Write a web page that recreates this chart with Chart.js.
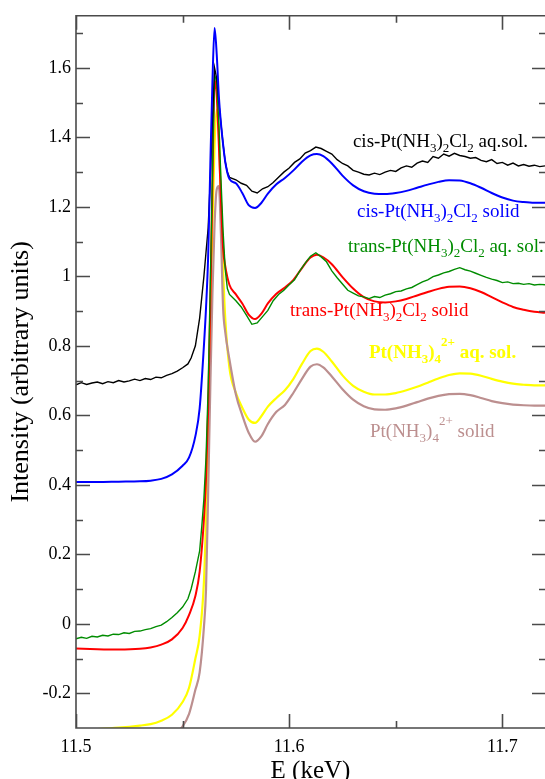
<!DOCTYPE html>
<html>
<head>
<meta charset="utf-8">
<title>Pt L3-edge XANES</title>
<script src="https://cdn.jsdelivr.net/npm/chart.js@4.4.1/dist/chart.umd.min.js"></script>
<style>
  body { margin: 0; background: #fff; overflow: hidden; }
  canvas { display: block; }
</style>
</head>
<body>
<canvas id="xanes" width="545" height="779"></canvas>
<script>
// energy grid (keV) for the smooth spectra
const energy = [11.500, 11.510, 11.520, 11.530, 11.535, 11.540, 11.545, 11.550, 11.553, 11.556,
    11.558, 11.560, 11.561, 11.562, 11.563, 11.564, 11.565, 11.566, 11.567, 11.568,
    11.569, 11.570, 11.572, 11.575, 11.578, 11.581, 11.584, 11.587, 11.590, 11.594,
    11.598, 11.602, 11.606, 11.610, 11.613, 11.616, 11.620, 11.625, 11.630, 11.635,
    11.640, 11.645, 11.650, 11.655, 11.660, 11.665, 11.670, 11.675, 11.680, 11.685,
    11.690, 11.695, 11.700, 11.705, 11.710, 11.715, 11.720];

const cisSolid = [0.408, 0.408, 0.409, 0.410, 0.412, 0.417, 0.430, 0.455, 0.478, 0.54,
    0.62, 0.80, 0.91, 1.06, 1.32, 1.56, 1.715, 1.64, 1.52, 1.44,
    1.38, 1.33, 1.28, 1.268, 1.24, 1.205, 1.197, 1.212, 1.238, 1.265,
    1.283, 1.305, 1.330, 1.348, 1.352, 1.346, 1.325, 1.290, 1.262, 1.245,
    1.238, 1.237, 1.240, 1.246, 1.255, 1.264, 1.272, 1.277, 1.276, 1.268,
    1.255, 1.240, 1.227, 1.218, 1.214, 1.212, 1.212];

const transSolid = [-0.071, -0.073, -0.074, -0.072, -0.068, -0.060, -0.045, -0.012, 0.025, 0.08,
    0.15, 0.30, 0.42, 0.62, 0.92, 1.26, 1.565, 1.52, 1.38, 1.22,
    1.08, 1.03, 0.975, 0.948, 0.922, 0.890, 0.877, 0.893, 0.922, 0.950,
    0.968, 0.990, 1.024, 1.054, 1.062, 1.055, 1.035, 0.998, 0.965, 0.940,
    0.928, 0.925, 0.928, 0.935, 0.945, 0.955, 0.964, 0.970, 0.971, 0.966,
    0.955, 0.940, 0.925, 0.912, 0.904, 0.898, 0.895];

const tetraAq = [-0.306, -0.303, -0.299, -0.293, -0.289, -0.279, -0.262, -0.225, -0.185, -0.10,
    -0.035, 0.12, 0.30, 0.55, 0.85, 1.15, 1.38, 1.48, 1.42, 1.20,
    1.02, 0.88, 0.735, 0.665, 0.622, 0.588, 0.578, 0.598, 0.625, 0.650,
    0.672, 0.705, 0.748, 0.785, 0.792, 0.783, 0.755, 0.715, 0.685, 0.668,
    0.660, 0.660, 0.664, 0.672, 0.682, 0.694, 0.706, 0.716, 0.721, 0.720,
    0.714, 0.705, 0.697, 0.691, 0.688, 0.686, 0.686];

const tetraSolid = [-0.40, -0.39, -0.38, -0.37, -0.36, -0.345, -0.325, -0.295, -0.26, -0.19,
    -0.14, -0.01, 0.10, 0.38, 0.68, 0.95, 1.15, 1.25, 1.26, 1.12,
    0.91, 0.84, 0.76, 0.66, 0.60, 0.55, 0.524, 0.540, 0.575, 0.610,
    0.630, 0.665, 0.705, 0.740, 0.747, 0.738, 0.712, 0.675, 0.645, 0.626,
    0.617, 0.616, 0.620, 0.628, 0.638, 0.648, 0.656, 0.661, 0.662, 0.658,
    0.650, 0.641, 0.635, 0.631, 0.629, 0.628, 0.628];

// finer grid for the two noisy solution spectra
const energyNoisy = [11.5, 11.5025, 11.505, 11.5075, 11.51, 11.5125, 11.515, 11.5175, 11.52, 11.5225,
    11.525, 11.5275, 11.53, 11.5325, 11.535, 11.5375, 11.54, 11.5425, 11.545, 11.5475, 11.55, 11.5525,
    11.554, 11.556, 11.558, 11.559, 11.56, 11.561, 11.562, 11.563, 11.564, 11.565,
    11.566, 11.567, 11.568, 11.569, 11.57, 11.571, 11.572,
    11.575, 11.5775, 11.58, 11.5825, 11.585, 11.5875, 11.59, 11.5925, 11.595, 11.5975,
    11.6, 11.6025, 11.605, 11.6075, 11.61, 11.6125, 11.615, 11.6175, 11.62, 11.6225,
    11.625, 11.6275, 11.63, 11.6325, 11.635, 11.6375, 11.64, 11.6425, 11.645, 11.6475,
    11.65, 11.6525, 11.655, 11.6575, 11.66, 11.6625, 11.665, 11.6675, 11.67, 11.6725,
    11.675, 11.6775, 11.68, 11.6825, 11.685, 11.6875, 11.69, 11.6925, 11.695, 11.6975,
    11.7, 11.7025, 11.705, 11.7075, 11.71, 11.7125, 11.715, 11.7175, 11.72];

const cisAq = [0.688, 0.694, 0.689, 0.693, 0.696, 0.691, 0.697, 0.694, 0.700, 0.696,
    0.699, 0.704, 0.700, 0.706, 0.703, 0.710, 0.708, 0.715, 0.720, 0.727, 0.737, 0.748,
    0.765, 0.80, 0.88, 0.94, 1.00, 1.07, 1.14, 1.28, 1.45, 1.60,
    1.57, 1.50, 1.44, 1.38, 1.33, 1.30, 1.285,
    1.278, 1.268, 1.262, 1.245, 1.240, 1.252, 1.258, 1.270, 1.285, 1.300,
    1.312, 1.328, 1.338, 1.355, 1.362, 1.372, 1.368, 1.360, 1.352, 1.336,
    1.325, 1.318, 1.305, 1.300, 1.294, 1.292, 1.297, 1.293, 1.300, 1.305,
    1.302, 1.312, 1.318, 1.314, 1.326, 1.332, 1.328, 1.345, 1.340, 1.352,
    1.346, 1.354, 1.348, 1.345, 1.340, 1.342, 1.334, 1.330, 1.336, 1.325,
    1.328, 1.320, 1.326, 1.318, 1.322, 1.317, 1.320, 1.316, 1.318];

const transAq = [-0.043, -0.039, -0.042, -0.036, -0.038, -0.033, -0.035, -0.030, -0.031, -0.026,
    -0.028, -0.022, -0.021, -0.017, -0.014, -0.008, -0.004, 0.006, 0.018, 0.032, 0.048, 0.072,
    0.10, 0.15, 0.21, 0.28, 0.36, 0.48, 0.68, 0.98, 1.30, 1.58,
    1.56, 1.44, 1.28, 1.13, 1.02, 0.965, 0.948,
    0.930, 0.912, 0.888, 0.862, 0.866, 0.884, 0.902, 0.930, 0.948, 0.960,
    0.976, 0.990, 1.016, 1.038, 1.058, 1.068, 1.056, 1.042, 1.016, 0.996,
    0.978, 0.960, 0.952, 0.944, 0.941, 0.936, 0.942, 0.939, 0.946, 0.950,
    0.956, 0.958, 0.964, 0.968, 0.976, 0.984, 0.990, 0.999, 1.004, 1.010,
    1.014, 1.020, 1.025, 1.019, 1.015, 1.009, 1.003, 0.997, 0.992, 0.988,
    0.982, 0.984, 0.979, 0.980, 0.977, 0.979, 0.975, 0.977, 0.976];

// axis ticks
const xMajorTicks = [11.5, 11.6, 11.7];
const xMinorTicks = [11.55, 11.65];
const yMajorTicks = [-0.2, 0, 0.2, 0.4, 0.6, 0.8, 1, 1.2, 1.4, 1.6];
const yMinorTicks = [-0.1, 0.1, 0.3, 0.5, 0.7, 0.9, 1.1, 1.3, 1.5, 1.7];

const SERIF = '"Liberation Serif", "DejaVu Serif", serif';

// curve labels: text parts as [text, 0 normal | -1 subscript | 1 superscript]
const curveLabels = [
    { x: 11.6299, y: 1.371, color: '#000000', bold: false,
      parts: [['cis-Pt(NH', 0], ['3', -1], [')', 0], ['2', -1], ['Cl', 0], ['2', -1], [' aq.sol.', 0]] },
    { x: 11.6318, y: 1.171, color: '#0000ff', bold: false,
      parts: [['cis-Pt(NH', 0], ['3', -1], [')', 0], ['2', -1], ['Cl', 0], ['2', -1], [' solid', 0]] },
    { x: 11.6276, y: 1.071, color: '#008c00', bold: false,
      parts: [['trans-Pt(NH', 0], ['3', -1], [')', 0], ['2', -1], ['Cl', 0], ['2', -1], [' aq. sol.', 0]] },
    { x: 11.6004, y: 0.886, color: '#ff0000', bold: false,
      parts: [['trans-Pt(NH', 0], ['3', -1], [')', 0], ['2', -1], ['Cl', 0], ['2', -1], [' solid', 0]] },
    { x: 11.6374, y: 0.766, color: '#ffff00', bold: true,
      parts: [['Pt(NH', 0], ['3', -1], [')', 0], ['4', -1], ['2+', 1], [' aq. sol.', 0]] },
    { x: 11.6379, y: 0.537, color: '#bc8f8f', bold: false,
      parts: [['Pt(NH', 0], ['3', -1], [')', 0], ['4', -1], ['2+', 1], [' solid', 0]] }
];

function toPoints(xs, ys) {
    return xs.map((e, i) => ({ x: e, y: ys[i] }));
}

// xmgrace-style frame with inward ticks; the right edge of the frame lies past the page
const frameTicks = {
    id: 'frameTicks',
    afterDatasetsDraw(chart) {
        const { ctx, chartArea: a, scales: { x, y } } = chart;
        const right = Math.max(a.right, chart.width + 1);
        ctx.save();
        ctx.strokeStyle = '#4a4a4a';
        ctx.lineWidth = 1.6;
        ctx.beginPath();
        ctx.moveTo(right, a.top); ctx.lineTo(a.left, a.top);
        ctx.lineTo(a.left, a.bottom); ctx.lineTo(right, a.bottom);
        const xt = (v, len) => {
            const px = Math.round(x.getPixelForValue(v)) + 0.5;
            ctx.moveTo(px, a.bottom); ctx.lineTo(px, a.bottom - len);
            ctx.moveTo(px, a.top); ctx.lineTo(px, a.top + len);
        };
        const yt = (v, len) => {
            const py = Math.round(y.getPixelForValue(v)) + 0.5;
            ctx.moveTo(a.left, py); ctx.lineTo(a.left + len, py);
            ctx.moveTo(right, py); ctx.lineTo(right - len, py);
        };
        xMajorTicks.forEach(v => xt(v, 14));
        xMinorTicks.forEach(v => xt(v, 7));
        yMajorTicks.forEach(v => yt(v, 14));
        yMinorTicks.forEach(v => yt(v, 7));
        ctx.stroke();
        ctx.restore();
    }
};

const curveText = {
    id: 'curveText',
    afterDatasetsDraw(chart) {
        const { ctx, scales: { x, y } } = chart;
        ctx.save();
        ctx.textBaseline = 'alphabetic';
        curveLabels.forEach(lab => {
            let px = x.getPixelForValue(lab.x);
            const py = y.getPixelForValue(lab.y);
            const w = lab.bold ? 'bold ' : '';
            ctx.fillStyle = lab.color;
            lab.parts.forEach(([t, mode]) => {
                ctx.font = w + (mode === 0 ? 19 : 13) + 'px ' + SERIF;
                const dy = mode === -1 ? 5 : (mode === 1 ? -12 : 0);
                ctx.fillText(t, px, py + dy);
                px += ctx.measureText(t).width;
            });
        });
        ctx.restore();
    }
};

const series = [
    { label: 'cis-Pt(NH3)2Cl2 solid', xs: energy, ys: cisSolid, color: '#0000ff', width: 2, smooth: true },
    { label: 'cis-Pt(NH3)2Cl2 aq.sol.', xs: energyNoisy, ys: cisAq, color: '#000000', width: 1.4, smooth: false },
    { label: 'trans-Pt(NH3)2Cl2 aq. sol.', xs: energyNoisy, ys: transAq, color: '#008c00', width: 1.4, smooth: false },
    { label: 'trans-Pt(NH3)2Cl2 solid', xs: energy, ys: transSolid, color: '#ff0000', width: 2, smooth: true },
    { label: 'Pt(NH3)4 2+ solid', xs: energy, ys: tetraSolid, color: '#bc8f8f', width: 2.2, smooth: true },
    { label: 'Pt(NH3)4 2+ aq. sol.', xs: energy, ys: tetraAq, color: '#ffff00', width: 2.2, smooth: true }
];

document.addEventListener('DOMContentLoaded', () => {
    new Chart(document.getElementById('xanes'), {
        type: 'line',
        data: {
            datasets: series.map(s => ({
                label: s.label,
                data: toPoints(s.xs, s.ys),
                borderColor: s.color,
                borderWidth: s.width,
                pointRadius: 0,
                fill: false,
                cubicInterpolationMode: s.smooth ? 'monotone' : 'default',
                tension: 0
            }))
        },
        options: {
            responsive: false,
            animation: false,
            layout: { padding: { top: 13, right: 0, bottom: 0, left: 0 } },
            plugins: { legend: { display: false }, tooltip: { enabled: false } },
            scales: {
                x: {
                    type: 'linear',
                    min: 11.5,
                    max: 11.72,
                    afterBuildTicks: s => { s.ticks = xMajorTicks.map(v => ({ value: v })); },
                    afterFit: s => { s.height = 51; },
                    grid: { display: false, drawTicks: false },
                    border: { display: false },
                    ticks: {
                        autoSkip: false,
                        maxRotation: 0,
                        padding: 8,
                        color: '#000',
                        font: { family: SERIF, size: 18 },
                        callback: v => v.toFixed(1)
                    },
                    title: {
                        display: true,
                        text: 'E (keV)',
                        color: '#000',
                        font: { family: SERIF, size: 25, lineHeight: 0.6 },
                        padding: { top: 0, bottom: 0 }
                    }
                },
                y: {
                    type: 'linear',
                    min: -0.3,
                    max: 1.75,
                    afterBuildTicks: s => { s.ticks = yMajorTicks.map(v => ({ value: v })); },
                    afterFit: s => { s.width = 76; },
                    grid: { display: false, drawTicks: false },
                    border: { display: false },
                    ticks: {
                        padding: 5,
                        color: '#000',
                        font: { family: SERIF, size: 18 },
                        callback: v => String(Math.round(v * 10) / 10)
                    },
                    title: {
                        display: true,
                        text: 'Intensity (arbitrary units)',
                        color: '#000',
                        font: { family: SERIF, size: 26 },
                        padding: { top: 6, bottom: 0 }
                    }
                }
            }
        },
        plugins: [frameTicks, curveText]
    });
});
</script>
</body>
</html>
